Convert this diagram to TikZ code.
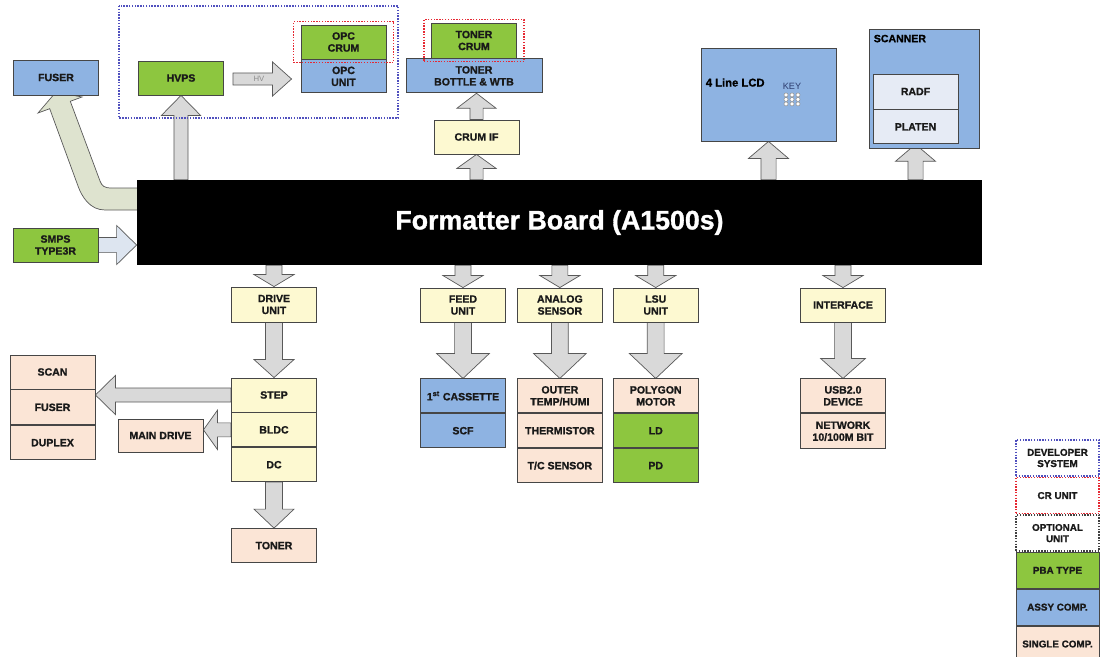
\documentclass[tikz,border=0pt]{standalone}
\usepackage{fontspec}
\setmainfont{Liberation Sans}[BoldFeatures={FakeBold=1.2}]
\usetikzlibrary{positioning,calc,fit,backgrounds}

\definecolor{pbagreen}{RGB}{141,198,63}
\definecolor{assyblue}{RGB}{142,179,226}
\definecolor{unityellow}{RGB}{253,249,209}
\definecolor{singlepeach}{RGB}{251,229,214}
\definecolor{arrgray}{RGB}{217,217,217}
\definecolor{fuserarr}{RGB}{222,227,207}
\definecolor{smpsarr}{RGB}{221,229,240}
\definecolor{scanlite}{RGB}{230,235,245}
\definecolor{devblue}{RGB}{80,80,190}
\definecolor{crred}{RGB}{230,40,50}
\definecolor{boxline}{RGB}{70,70,70}
\definecolor{keyblue}{RGB}{45,60,110}

\newcommand{\lblfont}{\fontsize{7.5}{8.5}\selectfont\bfseries}
\newcommand{\legfont}{\fontsize{7}{8}\selectfont\bfseries}

% fat arrow: [style]{from}{to}{shaft half width}{head half width}{head length}
\newcommand{\blockarr}[6][]{%
  \coordinate (ba-s) at (#2);
  \coordinate (ba-e) at (#3);
  \coordinate (ba-h) at ($(ba-e)!#6!(ba-s)$);
  \draw[barr,#1] ($(ba-s)!#4!90:(ba-e)$) -- ($(ba-h)!#4!90:(ba-e)$)
    -- ($(ba-h)!#5!90:(ba-e)$) -- (ba-e) -- ($(ba-h)!#5!-90:(ba-e)$)
    -- ($(ba-h)!#4!-90:(ba-e)$) -- ($(ba-s)!#4!-90:(ba-e)$) -- cycle;
}

\tikzset{
  blk/.style={draw=boxline,line width=0.6pt,minimum width=2.125cm,minimum height=0.85cm,inner sep=1pt,align=center,font=\lblfont,text=black!90},
  pbablk/.style={blk,fill=pbagreen},
  assyblk/.style={blk,fill=assyblue},
  unitblk/.style={blk,fill=unityellow},
  singleblk/.style={blk,fill=singlepeach},
  legblk/.style={blk,minimum width=2.075cm,minimum height=0.9cm,font=\legfont},
  barr/.style={draw=black!65,fill=arrgray,line width=0.5pt},
  devframe/.style={draw=devblue,dash pattern=on 1pt off 1pt,line width=1.1pt},
  crframe/.style={draw=crred,dash pattern=on 1pt off 1pt,line width=1.1pt},
  optframe/.style={draw=black!75,dash pattern=on 1pt off 1pt,line width=1.1pt}
}

\begin{document}
\begin{tikzpicture}[x=0.025cm,y=-0.025cm]
  \useasboundingbox (0,0) rectangle (1100,657);

  % top row
  \node[assyblk, minimum height=0.875cm] (fuser) at (56,77.5) {FUSER};
  \node[pbablk] (hvps) at (181,78) {HVPS};
  \node[pbablk] (opccrum) at (343.5,42) {OPC\\CRUM};
  \node[assyblk, below=0pt of opccrum, minimum height=0.825cm] (opcunit) {OPC\\UNIT};
  \node[pbablk, minimum height=0.875cm] (tonercrum) at (474,40.5) {TONER\\CRUM};
  \node[assyblk, below=0pt of tonercrum, minimum width=3.4cm] (bottle) {TONER\\BOTTLE \& WTB};
  \node[unitblk] (crumif) at (476.5,137) {CRUM IF};

  \node[assyblk, minimum width=3.375cm, minimum height=2.325cm] (lcd) at (768.5,94.5) {};
  \node[anchor=west, font=\fontsize{8}{9}\selectfont\bfseries, inner sep=0pt] (lcdtxt) at ($(lcd.west)+(5,-12)$) {4 Line LCD};
  \node[font=\fontsize{6.5}{7}\selectfont, text=keyblue, inner sep=0pt] (key) at (792,86.5) {KEY};
  \foreach \i in {0,1,2}
    \foreach \j in {0,1,2}
      \draw[draw=black!45, fill=white, line width=0.35pt] ($(key.south)+(\i*6-6,5+\j*4.5)$) circle[radius=1.45pt];

  \node[assyblk, minimum width=2.75cm, minimum height=2.975cm] (scanner) at (924,88.5) {};
  \node[anchor=north west, font=\lblfont, inner sep=0pt] (scantxt) at ($(scanner.north west)+(5,6)$) {SCANNER};
  \node[blk, fill=scanlite, minimum height=0.875cm] (radf) at (915.5,91.5) {RADF};
  \node[blk, fill=scanlite, below=0pt of radf] (platen) {PLATEN};

  % groups
  \draw[devframe] (119,6) rectangle (398,118);
  \node[crframe, fit=(opccrum), inner xsep=0.175cm, inner ysep=0.075cm] (opcframe) {};
  \node[crframe, fit=(tonercrum), inner xsep=0.175cm, inner ysep=0.075cm] (tonerframe) {};

  % board
  \node[fill=black, minimum width=21.125cm, minimum height=2.125cm, text=white,
        font=\fontsize{19}{22}\selectfont\bfseries] (board) at (559.5,222.5) {Formatter Board (A1500s)};
  \node[pbablk] (smps) at (55.5,245) {SMPS\\TYPE3R};

  % drive side
  \node[unitblk, minimum height=0.875cm] (drive) at (274,304.5) {DRIVE\\UNIT};
  \node[unitblk] (step) at (274,395) {STEP};
  \node[unitblk, below=0pt of step] (bldc) {BLDC};
  \node[unitblk, below=0pt of bldc] (dc) {DC};
  \node[singleblk, below=1.15cm of dc] (toner) {TONER};
  \node[singleblk] (scan) at (52.5,372) {SCAN};
  \node[singleblk, below=0pt of scan, minimum height=0.875cm] (fuserdrv) {FUSER};
  \node[singleblk, below=0pt of fuserdrv] (duplex) {DUPLEX};
  \node[singleblk, minimum height=0.825cm] (maindrv) at (160.5,435.5) {MAIN DRIVE};

  % feed / sensor / lsu
  \node[unitblk] (feed) at (463,305) {FEED\\UNIT};
  \node[unitblk, right=0.275cm of feed] (analog) {ANALOG\\SENSOR};
  \node[unitblk, right=0.25cm of analog] (lsu) {LSU\\UNIT};
  \node[assyblk, below=1.4cm of feed] (cassette) {1\textsuperscript{st} CASSETTE};
  \node[assyblk, below=0pt of cassette] (scf) {SCF};
  \node[singleblk, below=1.4cm of analog] (outer) {OUTER\\TEMP/HUMI};
  \node[singleblk, below=0pt of outer] (thermistor) {THERMISTOR};
  \node[singleblk, below=0pt of thermistor] (tcsensor) {T/C SENSOR};
  \node[singleblk, below=1.4cm of lsu] (polygon) {POLYGON\\MOTOR};
  \node[pbablk, below=0pt of polygon] (ld) {LD};
  \node[pbablk, below=0pt of ld] (pd) {PD};

  % interface
  \node[unitblk] (iface) at (843,305) {INTERFACE};
  \node[singleblk, below=1.4cm of iface] (usb) {USB2.0\\DEVICE};
  \node[singleblk, below=0pt of usb, minimum height=0.875cm] (network) {NETWORK\\10/100M BIT};

  % legend
  \node[legblk, fill=white, devframe] (legdev) at (1057.5,458) {DEVELOPER\\SYSTEM};
  \node[legblk, fill=white, crframe, below=0pt of legdev] (legcr) {CR UNIT};
  \node[legblk, fill=white, optframe, below=0pt of legcr] (legopt) {OPTIONAL\\UNIT};
  \node[legblk, fill=pbagreen, below=0pt of legopt] (legpba) {PBA TYPE};
  \node[legblk, fill=assyblue, below=0pt of legpba] (legassy) {ASSY COMP.};
  \node[legblk, fill=singlepeach, below=0pt of legassy] (legsingle) {SINGLE COMP.};

  \begin{scope}[on background layer]
    % power
    \draw[barr, fill=fuserarr] (140,188) -- (112,188) .. controls (104,188) and (102,186) .. (100,181)
      -- (70.3,101.3) -- (82,97) -- (56,92) -- (38,113) -- (49.7,108.7) -- (78,186)
      .. controls (82,197) and (90,210) .. (105,210) -- (140,210) -- cycle;
    \blockarr[fill=smpsarr]{smps.east}{board.west |- smps.east}{0.19cm}{0.49cm}{0.5cm}
    \blockarr{board.north -| hvps}{hvps.south}{0.175cm}{0.49cm}{0.5cm}
    \blockarr{$(hvps.east)+(9,1)$}{$(opcunit.west |- hvps.east)+(-9,1)$}{0.15cm}{0.425cm}{0.475cm}
    % toner
    \blockarr{board.north -| crumif}{crumif.south}{0.165cm}{0.49cm}{0.35cm}
    \blockarr{crumif.north}{bottle.south -| crumif.north}{0.165cm}{0.49cm}{0.375cm}
    % panel / scanner
    \blockarr{board.north -| lcd}{lcd.south}{0.19cm}{0.5cm}{0.425cm}
    \blockarr{board.north -| platen}{platen.south}{0.19cm}{0.5cm}{0.425cm}
    % down
    \blockarr{board.south -| drive}{drive.north}{0.2cm}{0.5cm}{0.3cm}
    \blockarr{board.south -| feed}{feed.north}{0.2cm}{0.5cm}{0.3cm}
    \blockarr{board.south -| analog}{analog.north}{0.2cm}{0.5cm}{0.3cm}
    \blockarr{board.south -| lsu}{lsu.north}{0.2cm}{0.5cm}{0.3cm}
    \blockarr{board.south -| iface}{iface.north}{0.2cm}{0.5cm}{0.3cm}
    \blockarr{drive.south}{step.north}{0.21cm}{0.5cm}{0.45cm}
    \blockarr{dc.south}{toner.north}{0.21cm}{0.5cm}{0.475cm}
    \blockarr{step.west}{scan.east |- step.west}{0.175cm}{0.49cm}{0.5cm}
    \blockarr{bldc.west}{maindrv.east |- bldc.west}{0.175cm}{0.49cm}{0.35cm}
    \blockarr{feed.south}{cassette.north}{0.21cm}{0.66cm}{0.625cm}
    \blockarr{analog.south}{outer.north}{0.21cm}{0.66cm}{0.625cm}
    \blockarr{lsu.south}{polygon.north}{0.21cm}{0.66cm}{0.625cm}
    \blockarr{iface.south}{usb.north}{0.21cm}{0.56cm}{0.5cm}
  \end{scope}
  \node[font=\fontsize{5.5}{6}\selectfont, text=black!45, inner sep=0pt] (hvtxt) at ($(hvps.east)+(35,1)$) {HV};
\end{tikzpicture}
\end{document}
